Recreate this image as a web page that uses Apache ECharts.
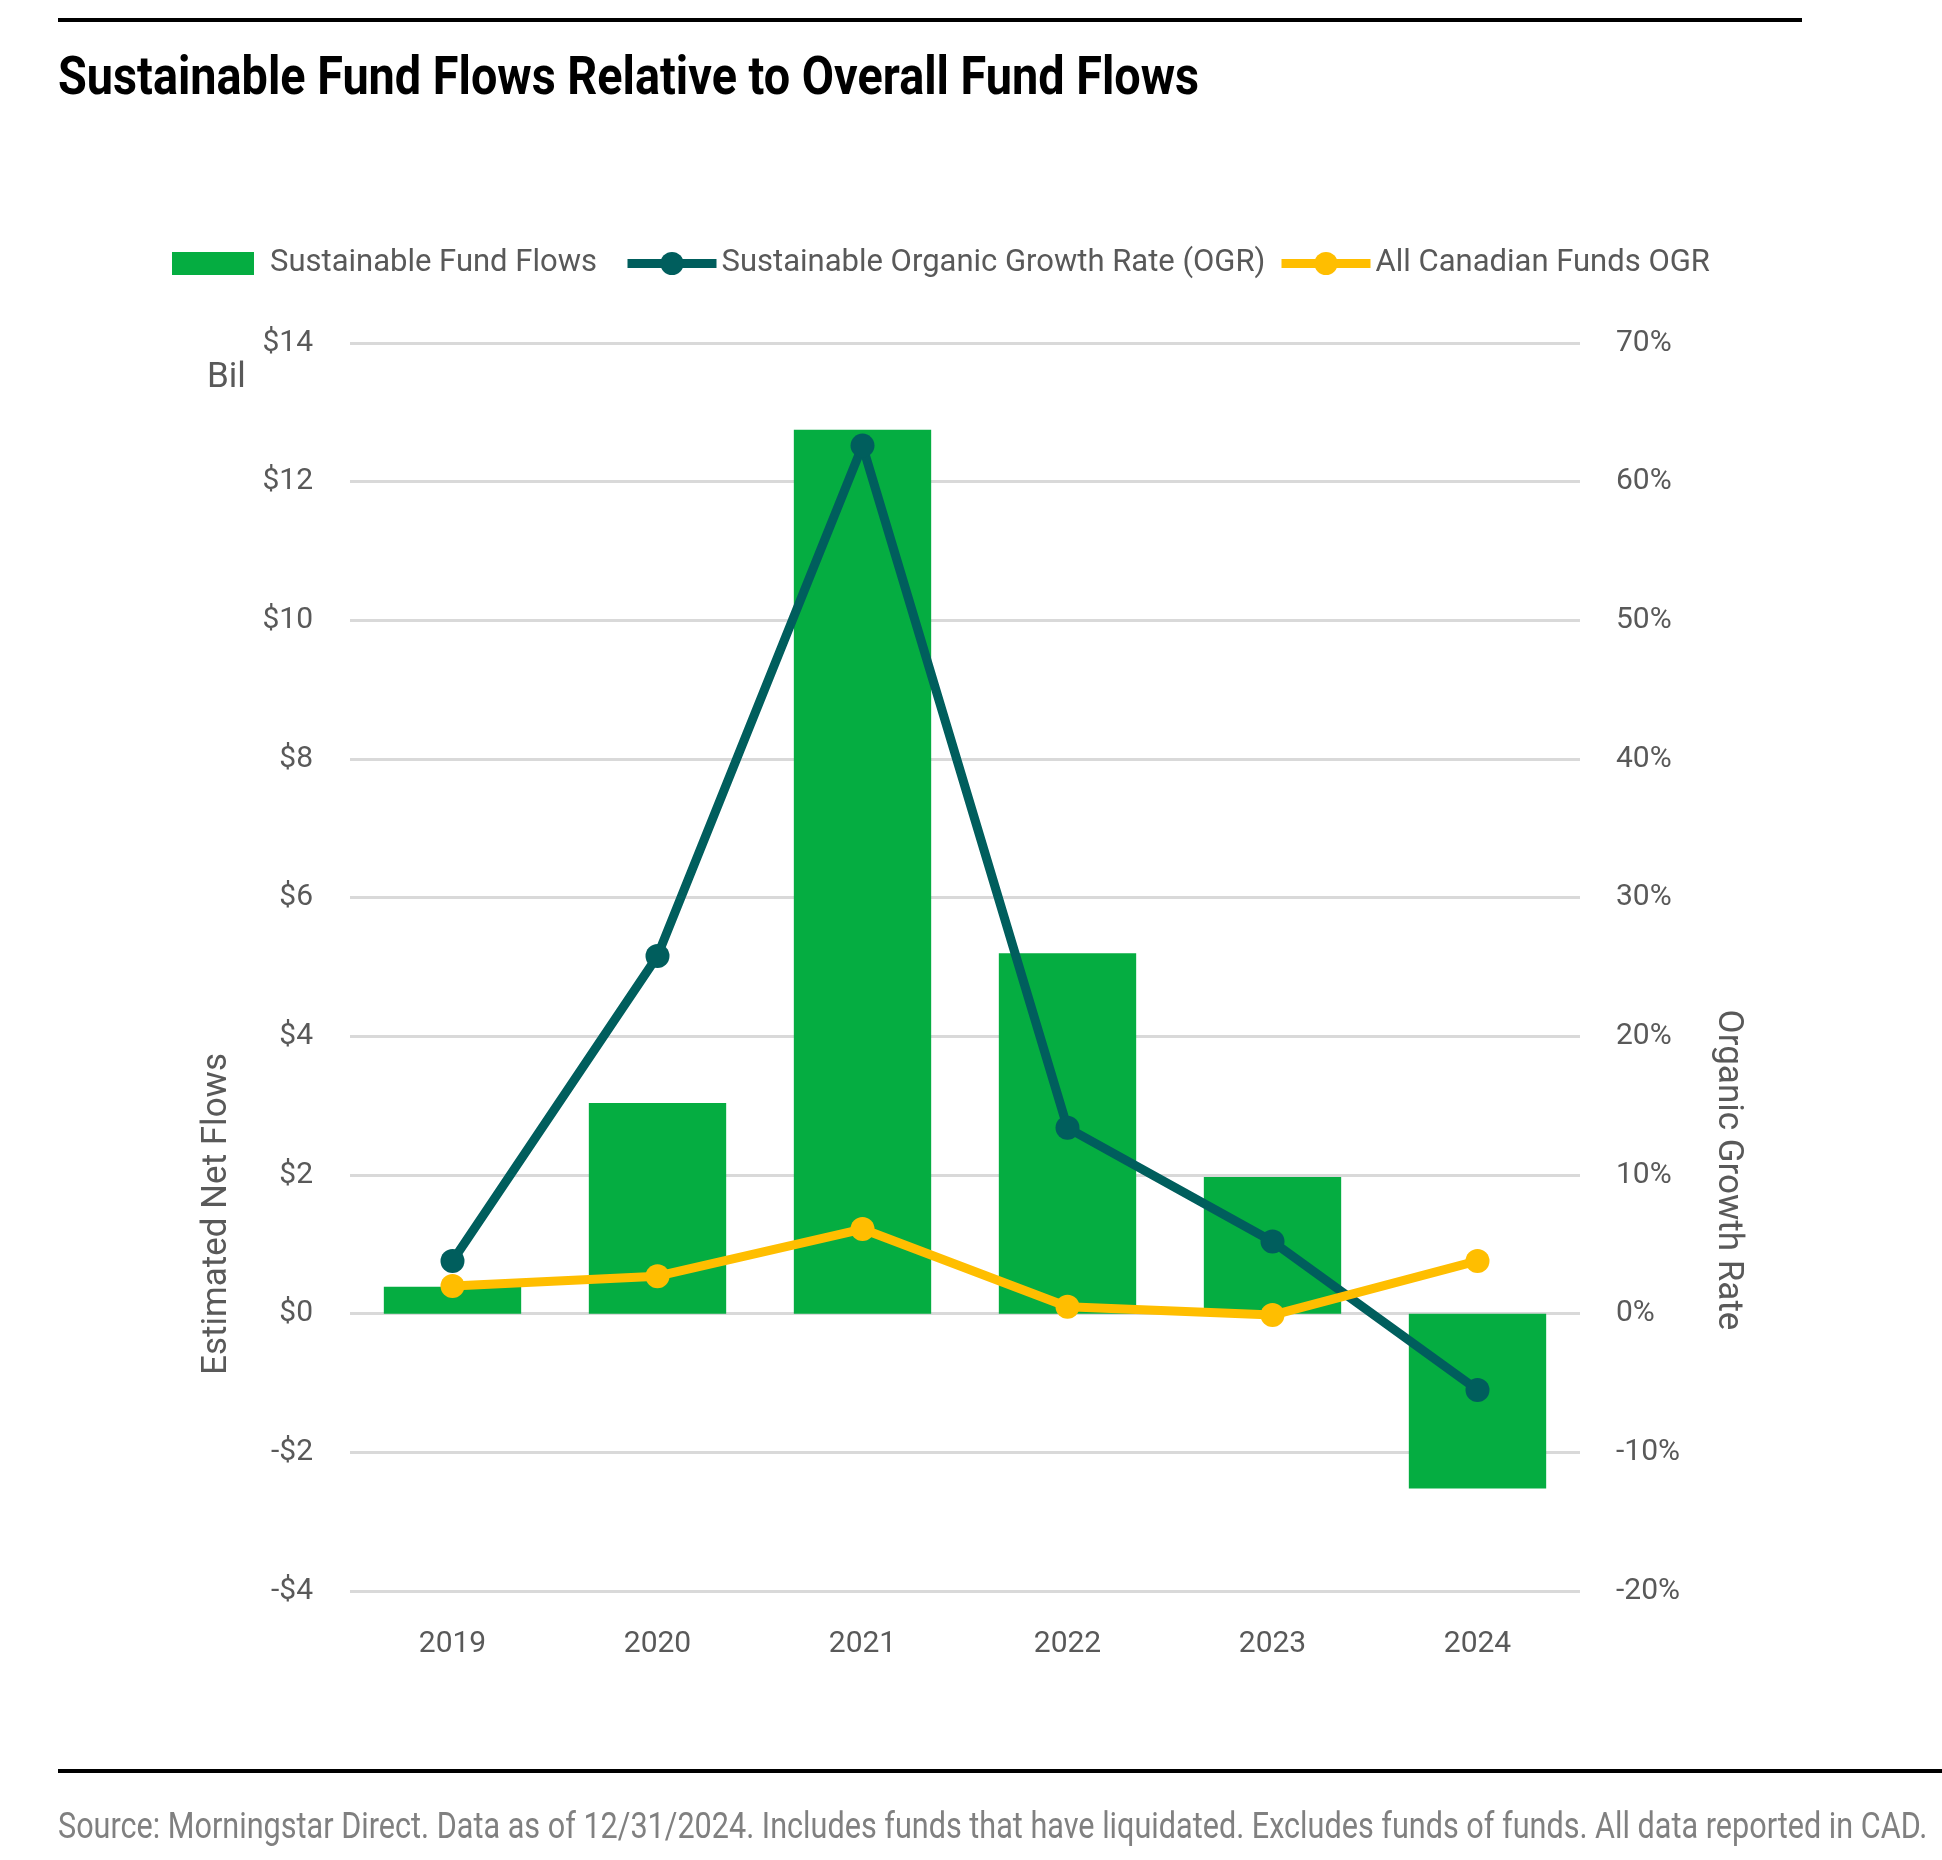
<!DOCTYPE html>
<html>
<head>
<meta charset="utf-8">
<script src="https://cdn.jsdelivr.net/npm/echarts@6/dist/echarts.min.js"></script>
<style>
  html, body { margin: 0; padding: 0; background: #fff; }
  #chart { width: 1942px; height: 1860px; }
</style>
</head>
<body>
<div id="chart"></div>
<script>
// 数据
var years = ['2019', '2020', '2021', '2022', '2023', '2024'];
var sustainableFlows = [0.39, 3.04, 12.75, 5.2, 1.97, -2.52];   // $Bil
var sustainableOGR = [3.8, 25.8, 62.6, 13.4, 5.2, -5.5];        // %
var allCanadianOGR = [2.0, 2.7, 6.1, 0.5, -0.1, 3.8];           // %

var FONT = "Roboto, 'Noto Sans', sans-serif";
var TEXT_COLOR = '#595959';
var GREEN = '#05ad41', TEAL = '#005e5d', YELLOW = '#ffbe00';

var chart = echarts.init(document.getElementById('chart'));

// 图例单独放置，每项一个 legend
function legendItem(name, left, width, height, pad, icon) {
  return {
    data: [{ name: name, icon: icon }],
    left: left,
    top: 248,
    padding: 0,
    itemWidth: width,
    itemHeight: height,
    selectedMode: false,
    lineStyle: { width: 9 },
    textStyle: {
      fontFamily: FONT,
      fontSize: 31,
      color: TEXT_COLOR,
      padding: [0, 0, 0, pad]
    }
  };
}

var option = {
  backgroundColor: '#fff',
  animation: false,
  legend: [
    legendItem('Sustainable Fund Flows', 172, 82, 23, 11, 'rect'),
    legendItem('Sustainable Organic Growth Rate (OGR)', 623, 89, 29, 0),
    legendItem('All Canadian Funds OGR', 1277, 89, 29, 0)
  ],
  grid: {
    left: 350,
    right: 362,
    top: 343,
    bottom: 269
  },
  xAxis: {
    type: 'category',
    data: years,
    axisLine: { show: false },
    axisTick: { show: false },
    axisLabel: {
      fontFamily: FONT,
      fontSize: 30,
      color: TEXT_COLOR,
      margin: 38
    }
  },
  yAxis: [
    {
      type: 'value',
      min: -4,
      max: 14,
      interval: 2,
      axisLine: { show: false },
      axisTick: { show: false },
      splitLine: { lineStyle: { color: '#d9d9d9', width: 3 } },
      axisLabel: {
        fontFamily: FONT,
        fontSize: 30,
        color: TEXT_COLOR,
        margin: 37,
        formatter: function (v) {
          return v < 0 ? '-$' + Math.abs(v) : '$' + v;
        }
      }
    },
    {
      type: 'value',
      min: -20,
      max: 70,
      interval: 10,
      axisLine: { show: false },
      axisTick: { show: false },
      splitLine: { show: false },
      axisLabel: {
        fontFamily: FONT,
        fontSize: 30,
        color: TEXT_COLOR,
        margin: 36,
        formatter: '{value}%'
      }
    }
  ],
  series: [
    {
      name: 'Sustainable Fund Flows',
      type: 'bar',
      yAxisIndex: 0,
      data: sustainableFlows,
      barWidth: '67%',
      itemStyle: { color: GREEN }
    },
    {
      name: 'Sustainable Organic Growth Rate (OGR)',
      type: 'line',
      yAxisIndex: 1,
      data: sustainableOGR,
      symbol: 'circle',
      symbolSize: 24,
      lineStyle: { color: TEAL, width: 9 },
      itemStyle: { color: TEAL },
      z: 3
    },
    {
      name: 'All Canadian Funds OGR',
      type: 'line',
      yAxisIndex: 1,
      data: allCanadianOGR,
      symbol: 'circle',
      symbolSize: 24,
      lineStyle: { color: YELLOW, width: 9 },
      itemStyle: { color: YELLOW },
      z: 4
    }
  ],
  graphic: [
    // 顶部黑线
    { type: 'rect', shape: { x: 58, y: 18, width: 1744, height: 4 }, style: { fill: '#000' } },
    // 底部黑线
    { type: 'rect', shape: { x: 58, y: 1769, width: 1884, height: 4 }, style: { fill: '#000' } },
    // 标题（压窄模拟窄体字）
    {
      type: 'text', x: 58, y: 54, scaleX: 0.883,
      style: {
        text: 'Sustainable Fund Flows Relative to Overall Fund Flows',
        font: 'bold 53px ' + FONT, fill: '#000', verticalAlign: 'top'
      }
    },
    {
      type: 'text', x: 207, y: 378,
      style: { text: 'Bil', font: '35px ' + FONT, fill: TEXT_COLOR, verticalAlign: 'middle' }
    },
    {
      type: 'text', x: 217, y: 1214, rotation: Math.PI / 2,
      style: { text: 'Estimated Net Flows', font: '35px ' + FONT, fill: TEXT_COLOR, align: 'center', verticalAlign: 'middle' }
    },
    {
      type: 'text', x: 1728, y: 1170, rotation: -Math.PI / 2,
      style: { text: 'Organic Growth Rate', font: '35px ' + FONT, fill: TEXT_COLOR, align: 'center', verticalAlign: 'middle' }
    },
    {
      type: 'text', x: 58, y: 1829, scaleX: 0.85,
      style: {
        text: 'Source: Morningstar Direct. Data as of 12/31/2024. Includes funds that have liquidated. Excludes funds of funds. All data reported in CAD.',
        font: '36px ' + FONT, fill: '#808080', verticalAlign: 'middle'
      }
    }
  ]
};

chart.setOption(option);
</script>
</body>
</html>
